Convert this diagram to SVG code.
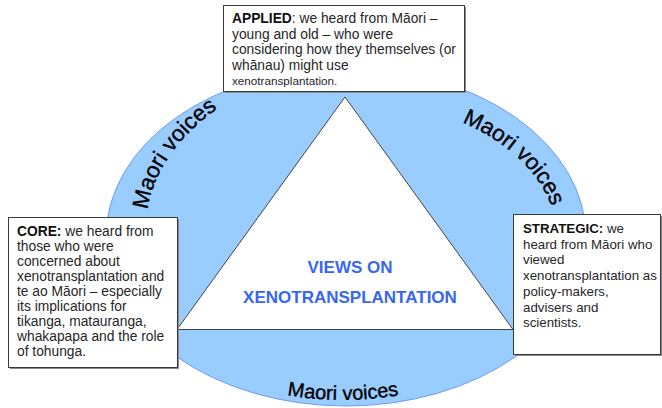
<svg xmlns="http://www.w3.org/2000/svg" xmlns:xlink="http://www.w3.org/1999/xlink" width="662" height="408" viewBox="0 0 662 408">
<style>
.box{fill:#fff;stroke:#3a3a3a;stroke-width:1}
.shadow{fill:#8a8a8a}
.t{font-family:"Liberation Sans",Arial,sans-serif;font-size:13.8px;fill:#262626}
.s{font-size:13.3px}
.b{font-weight:bold;fill:#111}
.mv{font-family:"Liberation Sans",Arial,sans-serif;font-size:22.5px;fill:#000;stroke:#000;stroke-width:0.35}
.mvb{font-size:20px}
.ctr{font-family:"Liberation Sans",Arial,sans-serif;font-size:17px;font-weight:bold;fill:#3866f2}
</style>
<defs>
<path id="pl" d="M 129 237 A 217 146 0 0 1 346 91"/>
<path id="pr" d="M 346 99 A 209 138 0 0 1 555 237"/>
<path id="pb" d="M 115 237 A 231 161 0 0 0 577 237"/>
</defs>
<g id="background">
<ellipse cx="346" cy="237" rx="240" ry="169" fill="#99ccff" stroke="#6f9cf5" stroke-width="1"/>
<polygon points="345,97 177,329.5 513,329.5" fill="#fff" stroke="#444" stroke-width="1"/>
<text class="mv" transform="translate(6,-3) rotate(-9 168 157)"><textPath xlink:href="#pl" href="#pl" startOffset="92.5" text-anchor="middle">Maori voices</textPath></text>
<text class="mv" transform="translate(2,1)"><textPath xlink:href="#pr" href="#pr" startOffset="180" text-anchor="middle">Maori voices</textPath></text>
<text class="mv mvb" transform="translate(-3,2)"><textPath xlink:href="#pb" href="#pb" startOffset="50%" text-anchor="middle">Maori voices</textPath></text>
<text class="ctr" x="350" y="273" text-anchor="middle">VIEWS ON</text>
<text class="ctr" x="350" y="303" text-anchor="middle">XENOTRANSPLANTATION</text>
</g>
<g id="applied">
<rect class="shadow" x="225" y="7" width="241" height="86"/>
<rect class="box" x="223.5" y="5.5" width="241" height="86"/>
<text class="t" x="232" y="23"><tspan class="b">APPLIED</tspan>: we heard from Māori –</text>
<text class="t" x="232" y="38.7">young and old – who were</text>
<text class="t" x="232" y="54.4">considering how they themselves (or</text>
<text class="t" x="232" y="70.1">whānau) might use</text>
<text class="t" x="232" y="85.3" style="font-size:11.7px">xenotransplantation.</text>
</g>
<g id="core">
<rect class="shadow" x="10" y="219" width="169" height="150"/>
<rect class="box" x="8.5" y="217.5" width="169" height="150"/>
<text class="t" x="17" y="236"><tspan class="b">CORE:</tspan> we heard from</text>
<text class="t" x="17" y="251">those who were</text>
<text class="t" x="17" y="266">concerned about</text>
<text class="t" x="17" y="281">xenotransplantation and</text>
<text class="t" x="17" y="296">te ao Māori – especially</text>
<text class="t" x="17" y="311">its implications for</text>
<text class="t" x="17" y="326">tikanga, matauranga,</text>
<text class="t" x="17" y="341">whakapapa and the role</text>
<text class="t" x="17" y="356">of tohunga.</text>
</g>
<g id="strategic">
<rect class="shadow" x="515" y="216" width="147" height="140"/>
<rect class="box" x="513.5" y="214.5" width="147" height="140"/>
<text class="t s" x="523" y="233"><tspan class="b">STRATEGIC:</tspan> we</text>
<text class="t s" x="523" y="248.7">heard from Māori who</text>
<text class="t s" x="523" y="264.4">viewed</text>
<text class="t s" x="523" y="280.1">xenotransplantation as</text>
<text class="t s" x="523" y="295.8">policy-makers,</text>
<text class="t s" x="523" y="311.5">advisers and</text>
<text class="t s" x="523" y="327.2">scientists.</text>
</g>
<g id="connectors"></g>
</svg>
